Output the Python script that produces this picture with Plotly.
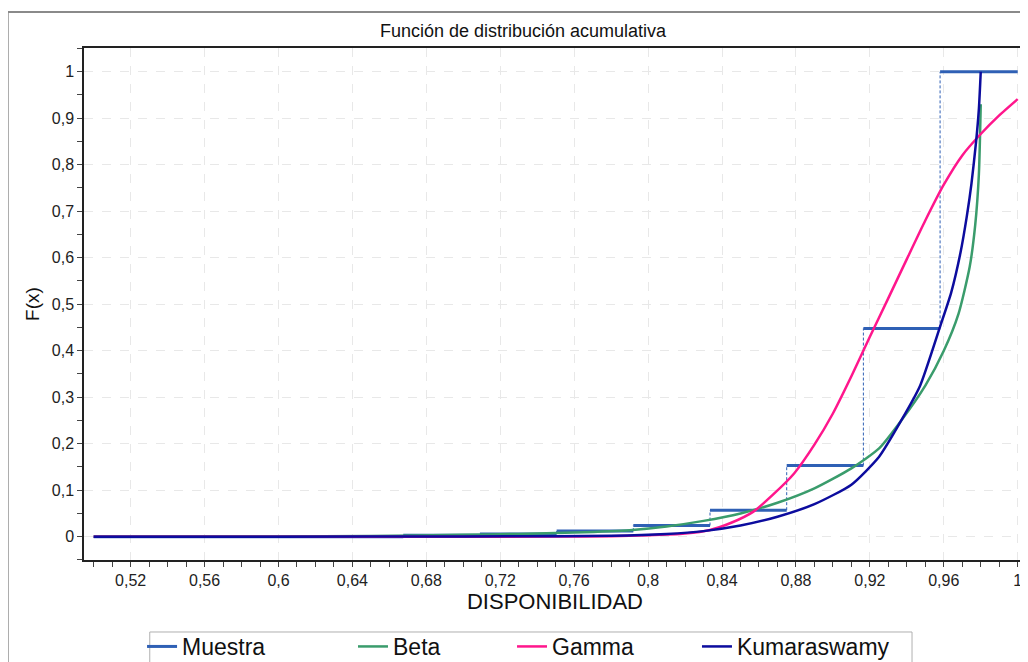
import plotly.graph_objects as go

# ---------------- data ----------------
# Sample empirical CDF (step function)
muestra_x = [0.5, 0.6675, 0.709, 0.7505, 0.792, 0.8335, 0.875, 0.9165, 0.958, 1.0]
muestra_f = [0.0, 0.003, 0.006, 0.012, 0.024, 0.057, 0.153, 0.448, 1.0]

beta_x = [0.5, 0.6, 0.65, 0.7, 0.73, 0.76, 0.79, 0.81, 0.83, 0.85, 0.87, 0.89, 0.91,
          0.925, 0.937, 0.95, 0.96, 0.968, 0.974, 0.977, 0.979, 0.98]
beta_f = [0.0, 0.0005, 0.0015, 0.004, 0.006, 0.009, 0.014, 0.022, 0.034, 0.050, 0.073,
          0.104, 0.147, 0.19, 0.25, 0.325, 0.40, 0.48, 0.58, 0.67, 0.78, 0.93]

gamma_x = [0.5, 0.7, 0.75, 0.78, 0.80, 0.82, 0.833, 0.845, 0.857, 0.868, 0.879, 0.89,
           0.9, 0.91, 0.92, 0.93, 0.94, 0.95, 0.96, 0.97, 0.98, 0.99, 1.0]
gamma_f = [0.0, 0.0, 0.0002, 0.001, 0.003, 0.007, 0.014, 0.03, 0.054, 0.092, 0.136, 0.198,
           0.265, 0.345, 0.43, 0.513, 0.597, 0.68, 0.757, 0.82, 0.866, 0.906, 0.941]

kuma_x = [0.5, 0.6, 0.7, 0.75, 0.78, 0.81, 0.83, 0.85, 0.87, 0.89, 0.91, 0.925, 0.937,
          0.947, 0.958, 0.964, 0.969, 0.9725, 0.975, 0.9775, 0.979, 0.98]
kuma_f = [0.0, 0.0001, 0.0005, 0.0012, 0.002, 0.006, 0.012, 0.024, 0.043, 0.07, 0.112,
          0.172, 0.25, 0.323, 0.452, 0.525, 0.61, 0.69, 0.76, 0.85, 0.92, 1.0]

x_tickvals = [0.52, 0.56, 0.6, 0.64, 0.68, 0.72, 0.76, 0.8, 0.84, 0.88, 0.92, 0.96, 1.0]
x_ticktext = ["0,52", "0,56", "0,6", "0,64", "0,68", "0,72", "0,76", "0,8", "0,84",
              "0,88", "0,92", "0,96", "1"]
y_tickvals = [0, 0.1, 0.2, 0.3, 0.4, 0.5, 0.6, 0.7, 0.8, 0.9, 1.0]
y_ticktext = ["0", "0,1", "0,2", "0,3", "0,4", "0,5", "0,6", "0,7", "0,8", "0,9", "1"]

# ---------------- styles ----------------
C_MUESTRA = "#2F60B5"
C_BETA = "#3A9C6C"
C_GAMMA = "#FF168C"
C_KUMA = "#0C0C9E"
FONT = "Liberation Sans, Arial, sans-serif"

# build step segments
hx, hy, vx, vy = [], [], [], []
for i, lvl in enumerate(muestra_f):
    hx += [muestra_x[i], muestra_x[i + 1], None]
    hy += [lvl, lvl, None]
    if i > 0:
        vx += [muestra_x[i], muestra_x[i], None]
        vy += [muestra_f[i - 1], lvl, None]

fig = go.Figure()
fig.add_trace(go.Scatter(x=vx, y=vy, mode="lines", showlegend=False,
                         line=dict(color=C_MUESTRA, width=1, dash="3px,2px"),
                         hoverinfo="skip"))
fig.add_trace(go.Scatter(x=hx, y=hy, mode="lines", name="Muestra", legend="legend",
                         line=dict(color=C_MUESTRA, width=3)))
fig.add_trace(go.Scatter(x=beta_x, y=beta_f, mode="lines", name="Beta", legend="legend2",
                         line=dict(color=C_BETA, width=2.5, shape="spline", smoothing=0.6)))
fig.add_trace(go.Scatter(x=gamma_x, y=gamma_f, mode="lines", name="Gamma", legend="legend3",
                         line=dict(color=C_GAMMA, width=2.5, shape="spline", smoothing=0.6)))
fig.add_trace(go.Scatter(x=kuma_x, y=kuma_f, mode="lines", name="Kumaraswamy", legend="legend4",
                         line=dict(color=C_KUMA, width=2.5, shape="spline", smoothing=0.6)))

leg_common = dict(orientation="h", xref="container", yref="container",
                  xanchor="left", yanchor="top", y=0.068,
                  font=dict(family=FONT, size=23, color="#111"),
                  bgcolor="rgba(0,0,0,0)", borderwidth=0, itemwidth=30)

axis_common = dict(showline=True, linecolor="#222", linewidth=1.5, mirror=True,
                   ticks="outside", ticklen=5, tickcolor="#444",
                   showgrid=True, gridcolor="#e8e8e8", griddash="dash", gridwidth=1,
                   zeroline=False, automargin=False,
                   tickfont=dict(family=FONT, size=16, color="#222"))

fig.update_layout(
    width=1028, height=662,
    margin=dict(l=76, r=10, t=40, b=110, autoexpand=False),
    paper_bgcolor="white", plot_bgcolor="white",
    font=dict(family=FONT, color="#111"),
    title=dict(text="Función de distribución acumulativa", x=0.501, xref="container",
               xanchor="center", y=0.966, yref="container", yanchor="middle",
               font=dict(family=FONT, size=18, color="#111")),
    xaxis=dict(range=[0.49475, 1.00449], tickmode="array", tickvals=x_tickvals,
               ticktext=x_ticktext,
               minor=dict(tick0=0.5, dtick=0.01, ticks="outside", ticklen=5,
                          tickcolor="#444", showgrid=False),
               title=dict(text="DISPONIBILIDAD", standoff=6,
                          font=dict(family=FONT, size=22, color="#111")),
               **axis_common),
    yaxis=dict(range=[-0.0501, 1.051], tickmode="array", tickvals=y_tickvals,
               ticktext=y_ticktext,
               minor=dict(tick0=0, dtick=0.05, ticks="outside", ticklen=5,
                          tickcolor="#444", showgrid=False),
               title=dict(text="F(x)", standoff=7,
                          font=dict(family=FONT, size=19, color="#111")),
               **axis_common),
    legend=dict(x=0.1304, **leg_common),
    legend2=dict(x=0.3356, **leg_common),
    legend3=dict(x=0.4903, **leg_common),
    legend4=dict(x=0.6702, **leg_common),
    shapes=[
        # outer chart frame
        dict(type="rect", xref="paper", yref="paper", x0=-0.081, x1=1.05, y0=-0.4, y1=1.0703,
             line=dict(color="#8a8a8a", width=2), fillcolor="rgba(0,0,0,0)", layer="below"),
        # legend box
        dict(type="rect", xref="paper", yref="paper", x0=0.0698, x1=0.879, y0=-0.26, y1=-0.1406,
             line=dict(color="#b0b0b0", width=1), fillcolor="rgba(0,0,0,0)", layer="below"),
    ],
)

fig.write_html("out.html")
